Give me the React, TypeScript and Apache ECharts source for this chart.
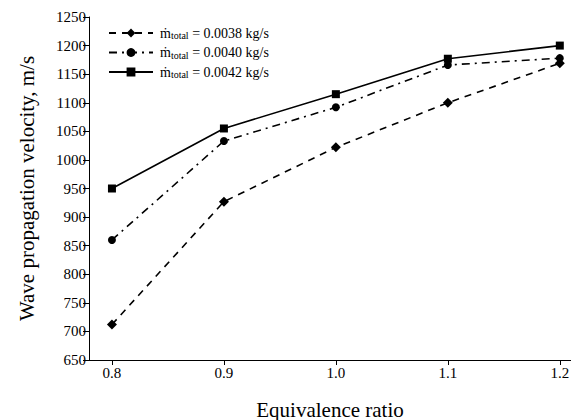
import React, { useEffect, useRef } from "react";
import * as echarts from "echarts";

const phi = [0.8, 0.9, 1.0, 1.1, 1.2];
const flowRates = ["0.0038", "0.0040", "0.0042"];
const v0038 = [712, 927, 1022, 1100, 1169];
const v0040 = [860, 1033, 1092, 1166, 1178];
const v0042 = [950, 1055, 1115, 1177, 1200];
const xTicks = [0.8, 0.9, 1.0, 1.1, 1.2];

const FONT = "'Liberation Serif', 'Times New Roman', serif";

export default function App() {
  const ref = useRef<HTMLDivElement>(null);
  useEffect(() => {
    if (!ref.current) return;
    const chart = echarts.init(ref.current, null, { renderer: "svg" });
    const mk = (vals: number[]) => phi.map((x, i) => [x, vals[i]]);
    const names = flowRates.map((f) => f);
    const series: any[] = [
      {
        name: names[0],
        type: "line",
        data: mk(v0038),
        symbol: "diamond",
        symbolSize: 10,
        lineStyle: { color: "#000", width: 1.6, type: [7, 6] },
        itemStyle: { color: "#000" },
      },
      {
        name: names[1],
        type: "line",
        data: mk(v0040),
        symbol: "circle",
        symbolSize: 8,
        lineStyle: { color: "#000", width: 1.6, type: [8, 5, 2, 5] },
        itemStyle: { color: "#000" },
      },
      {
        name: names[2],
        type: "line",
        data: mk(v0042),
        symbol: "rect",
        symbolSize: 8,
        lineStyle: { color: "#000", width: 1.6, type: "solid" },
        itemStyle: { color: "#000" },
      },
    ];
    chart.setOption({
      animation: false,
      backgroundColor: "#fff",
      textStyle: { fontFamily: FONT, color: "#000" },
      grid: { left: 89, right: 0, top: 17, bottom: 60, outerBoundsMode: "none" },
      legend: {
        orient: "vertical",
        left: 103,
        top: 21,
        itemWidth: 44,
        itemHeight: 11,
        itemGap: 5,
        data: names,
        formatter: (n: string) => `{m|ṁ}{sub|total}{n| = ${n} kg/s}`,
        textStyle: {
          fontFamily: FONT,
          color: "#000",
          padding: [0, 0, 0, 2],
          rich: {
            m: { fontFamily: FONT, fontSize: 14, color: "#000" },
            sub: { fontFamily: FONT, fontSize: 10, color: "#000", verticalAlign: "bottom", padding: [5, 0, 0, 0] },
            n: { fontFamily: FONT, fontSize: 14, color: "#000" },
          },
        },
      },
      xAxis: {
        type: "value",
        min: 0.7795,
        max: 1.21,
        name: "Equivalence ratio",
        nameLocation: "middle",
        nameGap: 39,
        nameTextStyle: { fontFamily: FONT, fontSize: 21, color: "#000" },
        axisLine: { lineStyle: { color: "#000", width: 1 } },
        axisTick: { customValues: xTicks, length: 5, lineStyle: { color: "#000" } },
        axisLabel: {
          customValues: xTicks,
          formatter: (v: number) => v.toFixed(1),
          fontFamily: FONT,
          fontSize: 15,
          color: "#000",
          margin: 5,
        },
        splitLine: { show: false },
      },
      yAxis: {
        type: "value",
        min: 650,
        max: 1250,
        interval: 50,
        name: "Wave propagation velocity, m/s",
        nameLocation: "middle",
        nameGap: 52,
        nameTextStyle: { fontFamily: FONT, fontSize: 21, color: "#000" },
        axisLine: { show: true, lineStyle: { color: "#000", width: 1 } },
        axisTick: { show: true, length: 6, lineStyle: { color: "#000" } },
        axisLabel: {
          formatter: (v: number) => String(v),
          fontFamily: FONT,
          fontSize: 15,
          color: "#000",
          margin: 3,
        },
        splitLine: { show: false },
      },
      series,
    });
    return () => chart.dispose();
  }, []);
  return (
    <div
      ref={ref}
      style={{ position: "absolute", left: 0, top: 0, width: 571, height: 420 }}
    />
  );
}
